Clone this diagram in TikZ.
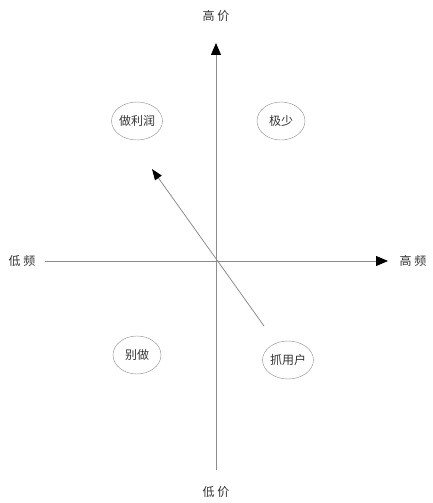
\documentclass[tikz,border=0pt]{standalone}
\usepackage{fontspec}
\newfontfamily\cjk{Noto Sans CJK SC}
\usetikzlibrary{arrows.meta,positioning,shapes.geometric}
\definecolor{axisgray}{gray}{0.55}
\definecolor{textgray}{gray}{0.2}

\begin{document}
\begin{tikzpicture}[
        x=1pt, y=-1pt,
        font=\cjk\fontsize{12}{14}\selectfont,
        axislabel/.style={text=textgray, inner sep=1pt},
        zone/.style={ellipse, draw=axisgray, thin, text=textgray,
                     minimum width=48pt, minimum height=38pt, inner sep=0pt},
        axis/.style={draw=axisgray, line width=0.8pt, -{Triangle[length=12pt, width=10pt, black]}},
        trend/.style={draw=axisgray, line width=0.8pt, -{Triangle[length=11pt, width=8pt, black]}}
    ]
        \useasboundingbox (0,0) rectangle (432,503);
        % axis labels
        \node[axislabel] (highprice) at (216,16) {高 价};
        \node[axislabel] (lowprice) at (216,492) {低 价};
        \node[axislabel] (lowfreq) at (22,261) {低 频};
        \node[axislabel] (highfreq) at (413,261) {高 频};
        \coordinate (origin) at (216,261);
        \coordinate (xstart) at (45,261);
        \coordinate (xend) at (388,261);
        \coordinate (ystart) at (216,470);
        \coordinate (yend) at (216,43);

        % quadrants
        \node[zone] (profit) at (137,121) {做利润};
        \node[zone] (rare) at (281,121) {极少};
        \node[zone] (avoid) at (137,355) {别做};
        \node[zone] (users) at (288,360) {抓用户};

        \draw[axis] (xstart) -- (xend);
        \draw[axis] (ystart) -- (yend);
        \coordinate (tstart) at (264,326);
        \coordinate (tend) at (152,169);
        \draw[trend] (tstart) -- (tend);
    \end{tikzpicture}
\end{document}
